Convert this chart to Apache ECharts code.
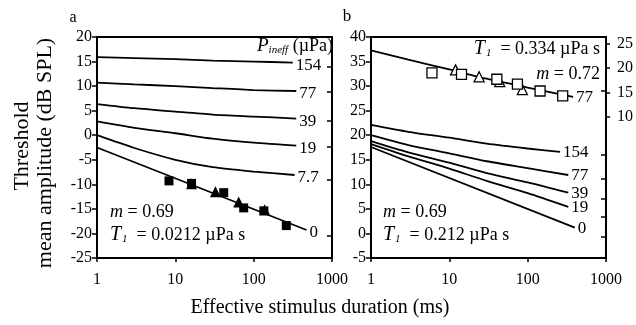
<!DOCTYPE html>
<html><head><meta charset="utf-8">
<script src="https://cdn.jsdelivr.net/npm/echarts@6/dist/echarts.min.js"></script>
<style>html,body{margin:0;padding:0;background:#fff}#c{width:636px;height:325px}</style>
</head><body><div id="c"></div>
<script>
const FONT = "'Liberation Serif','Times New Roman',serif";

// ---- Panel a : curves for each P_ineff (duration ms, dB SPL)
const aLabels = ['154', '77', '39', '19', '7.7', '0'];
const aCurve154 = [[1, 15.9], [3, 15.7], [10, 15.5], [30, 15.2], [100, 15.0], [316, 14.8]];
const aCurve77  = [[1, 10.7], [3, 10.35], [10, 10.0], [30, 9.6], [100, 9.2], [350, 9.0]];
const aCurve39  = [[1, 6.35], [3, 5.5], [10, 4.8], [30, 4.2], [100, 3.8], [350, 3.4]];
const aCurve19  = [[1, 2.8], [3, 1.5], [10, 0.4], [30, -0.7], [100, -1.5], [350, -2.1]];
const aCurve7_7 = [[1, 0.0], [3, -2.6], [10, -5.0], [30, -6.5], [100, -7.4], [333, -8.1]];
const aCurve0   = [[1, -2.5], [473, -19.3]];
const aSquares  = [[8.3, -9.3], [16.1, -9.8], [41.5, -11.7], [74.6, -14.8], [135, -15.4], [261, -18.4]];
const aTriangles = [[16.1, -9.9], [32.5, -11.5], [64.4, -13.6], [138, -15.2]];
const aRightTicks = [13.9, 8.8, 2.9, -2.4, -9.1, -20.5];

// ---- Panel b
const bLabels = ['154', '77', '39', '19', '0'];
const bCurve154 = [[1, 22.1], [3, 20.7], [10, 19.5], [30, 18.3], [100, 17.3], [259, 16.6]];
const bCurve77  = [[1, 20.0], [3, 18.0], [10, 16.3], [30, 14.7], [100, 13.3], [330, 11.9]];
const bCurve39  = [[1, 18.8], [3, 16.5], [10, 14.4], [30, 12.3], [100, 10.4], [330, 8.3]];
const bCurve19  = [[1, 18.2], [3, 15.7], [10, 13.2], [30, 10.7], [100, 8.2], [330, 5.4]];
const bCurve0   = [[1, 17.6], [400, 1.2]];
const bUpper77  = [[1, 37.3], [3, 35.4], [10, 33.4], [30, 31.5], [100, 29.7], [380, 27.8]];
const bSquares  = [[6.0, 32.7], [14.3, 32.4], [40.4, 31.4], [74, 30.4], [144, 29.0], [280, 28.0]];
const bTriangles = [[12, 33.3], [24, 31.9], [44, 30.9], [85.5, 29.3]];
const bRightTicks = [29.0, 16.1, 11.2, 7.1, 3.4, -0.7];
const bRightScaleTicks = [10, 15, 20, 25];

const aCurves = [aCurve154, aCurve77, aCurve39, aCurve19, aCurve7_7, aCurve0];
const bCurves = [bUpper77, bCurve154, bCurve77, bCurve39, bCurve19, bCurve0];
const bCurveLabels = ['77'].concat(bLabels);

function lineSeries(data, name, xi, yi, offY) {
  return {
    type: 'line', name: name, xAxisIndex: xi, yAxisIndex: yi, data: data,
    smooth: data.length > 2 ? 0.25 : false, showSymbol: false, silent: true,
    lineStyle: { color: '#000', width: 1.8 },
    endLabel: { show: true, formatter: name, color: '#000', fontFamily: FONT, fontSize: 17,
                distance: 3, offset: [0, offY] }
  };
}

const series = [];
aCurves.forEach((d, i) => series.push(lineSeries(d, aLabels[i], 0, 0, 3)));
bCurves.forEach((d, i) => series.push(lineSeries(d, bCurveLabels[i], 1, 2, 1)));
series.push({ type: 'scatter', xAxisIndex: 0, yAxisIndex: 0, data: aTriangles, symbol: 'triangle', symbolSize: 11, itemStyle: { color: '#000', opacity: 1 }, z: 5 });
series.push({ type: 'scatter', xAxisIndex: 0, yAxisIndex: 0, data: aSquares, symbol: 'rect', symbolSize: 9, itemStyle: { color: '#000', opacity: 1 }, z: 6 });
series.push({ type: 'scatter', xAxisIndex: 1, yAxisIndex: 2, data: bTriangles, symbol: 'triangle', symbolSize: 10, itemStyle: { color: '#fff', borderColor: '#000', borderWidth: 1.3, opacity: 1 }, z: 5 });
series.push({ type: 'scatter', xAxisIndex: 1, yAxisIndex: 2, data: bSquares, symbol: 'rect', symbolSize: 10, itemStyle: { color: '#fff', borderColor: '#000', borderWidth: 1.3, opacity: 1 }, z: 6 });

function xAxis(gi) {
  return {
    type: 'log', logBase: 10, min: 1, max: 1000, gridIndex: gi,
    axisLine: { onZero: false, lineStyle: { color: '#000', width: 2 } },
    axisTick: { show: true, length: 4, lineStyle: { color: '#000', width: 1.5 } },
    minorTick: { show: false },
    axisLabel: { color: '#000', fontFamily: FONT, fontSize: 16, margin: 14, formatter: v => String(v) },
    splitLine: { show: false }
  };
}
function yAxis(gi, min, max, extra) {
  return Object.assign({
    type: 'value', gridIndex: gi, min: min, max: max, interval: 5,
    axisLine: { show: true, onZero: false, lineStyle: { color: '#000', width: 2 } },
    axisTick: { show: true, length: 5, lineStyle: { color: '#000', width: 1.5 } },
    axisLabel: { color: '#000', fontFamily: FONT, fontSize: 16, margin: 5 },
    splitLine: { show: false }
  }, extra || {});
}

const option = {
  animation: false,
  grid: [
    { left: 97, top: 37, width: 235, height: 221, show: true, borderColor: '#000', borderWidth: 2 },
    { left: 371, top: 37, width: 239, height: 221, show: true, borderColor: '#000', borderWidth: 2 }
  ],
  xAxis: [xAxis(0), xAxis(1)],
  yAxis: [
    yAxis(0, -25, 20),
    yAxis(0, -25, 20, { position: 'right', axisLabel: { show: false },
      axisTick: { show: true, inside: true, length: 5, customValues: aRightTicks, lineStyle: { color: '#000', width: 1.5 } } }),
    yAxis(1, -5, 40),
    yAxis(1, -5, 40, { position: 'right', axisLabel: { show: false },
      axisTick: { show: true, inside: true, length: 5, customValues: bRightTicks, lineStyle: { color: '#000', width: 1.5 } } }),
    yAxis(1, -18.7, 26.3, { position: 'right', interval: null,
      axisTick: { show: true, length: 4, customValues: bRightScaleTicks, lineStyle: { color: '#000', width: 1.5 } },
      axisLabel: { color: '#000', fontFamily: FONT, fontSize: 16, margin: 11, customValues: bRightScaleTicks } })
  ],
  series: series,
  graphic: [
    { type: 'text', x: 73, y: 18, style: { text: 'a', font: '16px ' + FONT, fill: '#000', align: 'center', verticalAlign: 'middle' } },
    { type: 'text', x: 347, y: 17, style: { text: 'b', font: '17px ' + FONT, fill: '#000', align: 'center', verticalAlign: 'middle' } },
    { type: 'text', x: 333, y: 46, style: { text: '{i|P}{s|ineff}{n| (µPa)}', align: 'right', verticalAlign: 'middle',
      rich: { i: { fontFamily: FONT, fontSize: 19, fontStyle: 'italic' }, s: { fontFamily: FONT, fontSize: 11, fontStyle: 'italic', padding: [9, 0, 0, 0] }, n: { fontFamily: FONT, fontSize: 18 } } } },
    { type: 'text', x: 110, y: 212, style: { text: '{i|m} = 0.69', font: '18px ' + FONT, fill: '#000', verticalAlign: 'middle',
      rich: { i: { fontFamily: FONT, fontSize: 18, fontStyle: 'italic' } } } },
    { type: 'text', x: 110, y: 235, style: { text: '{i|T}{s|1}  = 0.0212 µPa s', font: '18px ' + FONT, fill: '#000', verticalAlign: 'middle',
      rich: { i: { fontFamily: FONT, fontSize: 20, fontStyle: 'italic' }, s: { fontFamily: FONT, fontSize: 11, fontStyle: 'italic', padding: [9, 0, 0, 1] } } } },
    { type: 'text', x: 600, y: 49, style: { text: '{i|T}{s|1}  = 0.334 µPa s', font: '18px ' + FONT, fill: '#000', align: 'right', verticalAlign: 'middle',
      rich: { i: { fontFamily: FONT, fontSize: 20, fontStyle: 'italic' }, s: { fontFamily: FONT, fontSize: 11, fontStyle: 'italic', padding: [9, 0, 0, 1] } } } },
    { type: 'text', x: 600, y: 74, style: { text: '{i|m} = 0.72', font: '18px ' + FONT, fill: '#000', align: 'right', verticalAlign: 'middle',
      rich: { i: { fontFamily: FONT, fontSize: 18, fontStyle: 'italic' } } } },
    { type: 'text', x: 383, y: 212, style: { text: '{i|m} = 0.69', font: '18px ' + FONT, fill: '#000', verticalAlign: 'middle',
      rich: { i: { fontFamily: FONT, fontSize: 18, fontStyle: 'italic' } } } },
    { type: 'text', x: 383, y: 235, style: { text: '{i|T}{s|1}  = 0.212 µPa s', font: '18px ' + FONT, fill: '#000', verticalAlign: 'middle',
      rich: { i: { fontFamily: FONT, fontSize: 20, fontStyle: 'italic' }, s: { fontFamily: FONT, fontSize: 11, fontStyle: 'italic', padding: [9, 0, 0, 1] } } } },
    { type: 'text', x: 22, y: 146, rotation: Math.PI / 2, style: { text: 'Threshold', font: '22px ' + FONT, fill: '#000', align: 'center', verticalAlign: 'middle' } },
    { type: 'text', x: 45, y: 153, rotation: Math.PI / 2, style: { text: 'mean amplitude (dB SPL)', font: '22px ' + FONT, fill: '#000', align: 'center', verticalAlign: 'middle' } },
    { type: 'text', x: 320, y: 308, style: { text: 'Effective stimulus duration (ms)', font: '20px ' + FONT, fill: '#000', align: 'center', verticalAlign: 'middle' } }
  ]
};
const chart = echarts.init(document.getElementById('c'), null, { renderer: 'canvas' });
chart.setOption(option);
</script></body></html>
